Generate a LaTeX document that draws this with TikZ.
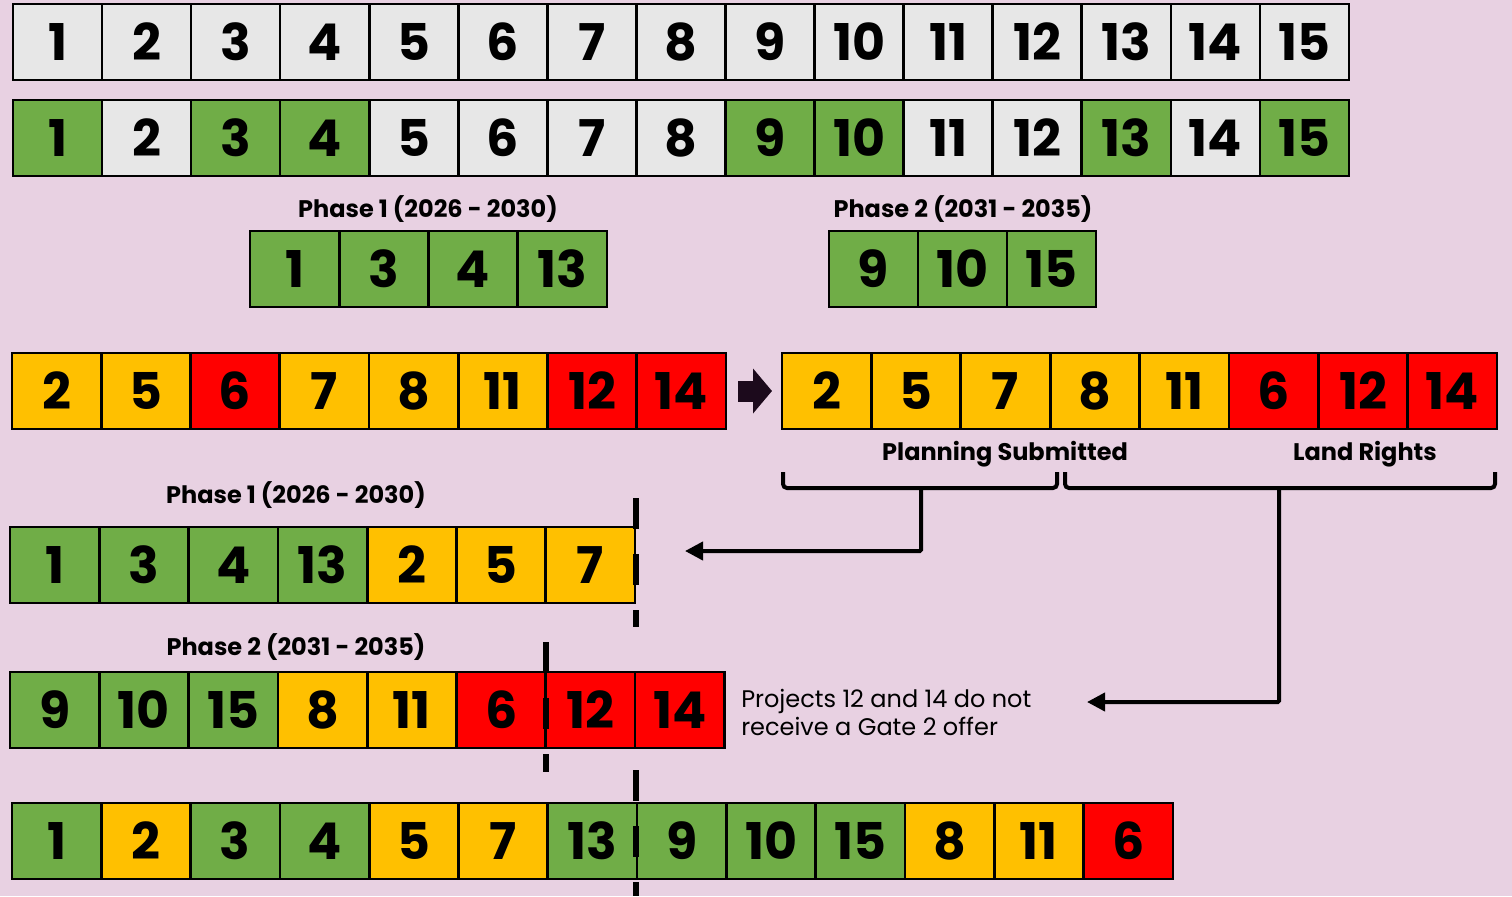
\documentclass[tikz,border=0pt]{standalone}
\usepackage{fontspec}
\setmainfont{Poppins}
\usetikzlibrary{positioning, arrows.meta}
\definecolor{bgpink}{HTML}{E8D1E2}
\definecolor{cgry}{HTML}{E7E7E7}
\definecolor{cgrn}{HTML}{70AD47}
\definecolor{camb}{HTML}{FFC000}
\definecolor{cred}{HTML}{FF0000}
\definecolor{adark}{HTML}{1C0A1C}

\begin{document}
\begin{tikzpicture}[
        x=0.75pt, y=-0.75pt,
        cell/.style={draw, line width=2pt, minimum width=66.9pt, minimum height=57pt, inner sep=0pt, outer sep=0pt, font=\bfseries\fontsize{38}{38}\selectfont},
        phase/.style={inner sep=0pt, font=\bfseries\fontsize{18}{18}\selectfont},
        cut/.style={line width=5pt, dash pattern=on 23.25pt off 18.75pt},
        link/.style={line width=3pt, -{Triangle[length=13.5pt, width=13.5pt]}},
        brace/.style={line width=3pt, rounded corners=3pt}
    ]

    \useasboundingbox (0,0) rectangle (1512,896);
    \fill[bgpink] (0,0) rectangle (1512,896);

    % All projects
    \foreach \n [count=\i] in {1,...,15}
        \node[cell, fill=cgry] (all\i) at ({13+(\i-0.5)*89.07}, 42) {\n};

    % Projects picked
    \foreach \n/\c [count=\i] in {1/cgrn, 2/cgry, 3/cgrn, 4/cgrn, 5/cgry, 6/cgry, 7/cgry, 8/cgry, 9/cgrn, 10/cgrn, 11/cgry, 12/cgry, 13/cgrn, 14/cgry, 15/cgrn}
        \node[cell, fill=\c] (pick\i) at ({13+(\i-0.5)*89.07}, 138) {\n};

    % Phase 1 and phase 2 picks
    \node[phase] (lblpa) at (428,209) {Phase 1 (2026 - 2030)};
    \foreach \n [count=\i] in {1, 3, 4, 13}
        \node[cell, fill=cgrn] (pa\i) at ({250+(\i-0.5)*89.25}, 269) {\n};
    \node[phase] (lblpb) at (963,209) {Phase 2 (2031 - 2035)};
    \foreach \n [count=\i] in {9, 10, 15}
        \node[cell, fill=cgrn] (pb\i) at ({829+(\i-0.5)*89}, 269) {\n};

    % Remaining projects, then sorted
    \foreach \n/\c [count=\i] in {2/camb, 5/camb, 6/cred, 7/camb, 8/camb, 11/camb, 12/cred, 14/cred}
        \node[cell, fill=\c] (rest\i) at ({12+(\i-0.5)*89.25}, 391) {\n};
    \foreach \n/\c [count=\i] in {2/camb, 5/camb, 7/camb, 8/camb, 11/camb, 6/cred, 12/cred, 14/cred}
        \node[cell, fill=\c] (sort\i) at ({782+(\i-0.5)*89.4}, 391) {\n};

    \coordinate (shiftfrom) at (738,391);
    \coordinate (shiftto) at (772,391);
    \draw[adark, line width=15.75pt, -{Triangle[length=14.25pt, width=33pt]}] (shiftfrom) -- (shiftto);

    \node[phase] (lblplan) at (1005,454) {Planning Submitted};
    \node[phase] (lblland) at (1365,454) {Land Rights};

    % Brackets under sorted row
    \draw[brace] (783,472) -- (783,488) -- (1057,488) -- (1057,472);
    \draw[brace] (1065,472) -- (1065,488) -- (1495,488) -- (1495,472);
    \coordinate (planstem) at (921,488);
    \coordinate (landstem) at (1279,488);
    \coordinate (planend) at (685,551);
    \coordinate (landend) at (1087,702);
    \draw[link, rounded corners=1pt] (planstem) |- (planend);
    \draw[link, rounded corners=1pt] (landstem) |- (landend);

    % Phase 1 final
    \node[phase] (lblfa) at (296,495) {Phase 1 (2026 - 2030)};
    \foreach \n/\c [count=\i] in {1/cgrn, 3/cgrn, 4/cgrn, 13/cgrn, 2/camb, 5/camb, 7/camb}
        \node[cell, fill=\c] (fa\i) at ({10+(\i-0.5)*89.3}, 565) {\n};

    % Phase 2 final
    \node[phase] (lblfb) at (296,647) {Phase 2 (2031 - 2035)};
    \foreach \n/\c [count=\i] in {9/cgrn, 10/cgrn, 15/cgrn, 8/camb, 11/camb, 6/cred, 12/cred, 14/cred}
        \node[cell, fill=\c] (fb\i) at ({10+(\i-0.5)*89.3}, 710) {\n};
    \node[anchor=west, align=left, inner sep=0pt, font=\fontsize{18}{21}\selectfont] (note) at (741,712) {Projects 12 and 14 do not\\receive a Gate 2 offer};

    % Combined order
    \foreach \n/\c [count=\i] in {1/cgrn, 2/camb, 3/cgrn, 4/cgrn, 5/camb, 7/camb, 13/cgrn, 9/cgrn, 10/cgrn, 15/cgrn, 8/camb, 11/camb, 6/cred}
        \node[cell, fill=\c] (comb\i) at ({12+(\i-0.5)*89.3}, 841) {\n};

    % Cut-off lines
    \draw[cut] (636,498) -- (636,627);
    \draw[cut] (546,642) -- (546,772);
    \draw[cut] (636,770) -- (636,896);

\end{tikzpicture}
\end{document}
